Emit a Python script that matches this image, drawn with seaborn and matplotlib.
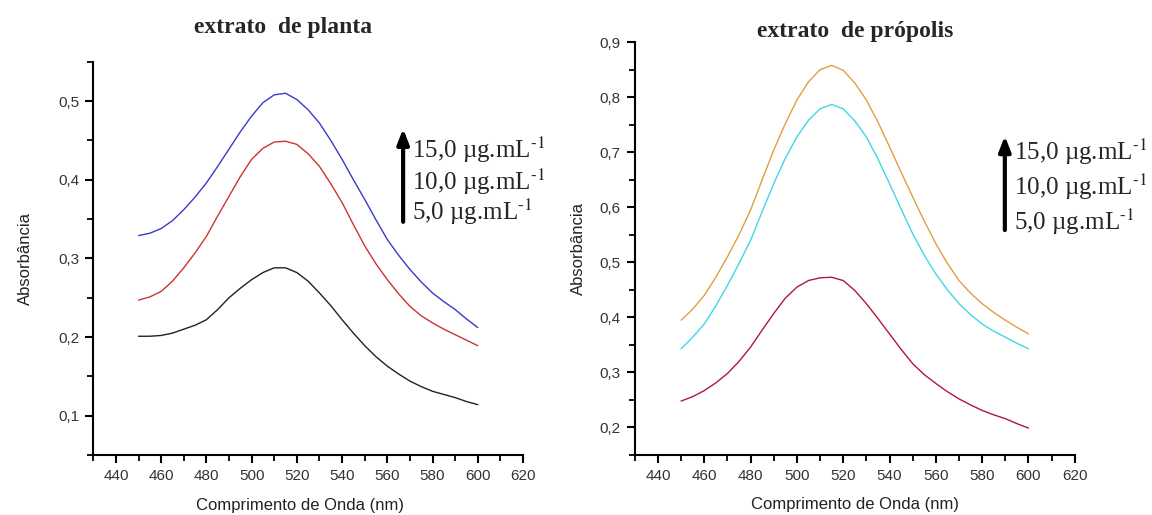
import numpy as np
import pandas as pd
from matplotlib import pyplot as plt
from matplotlib.ticker import MultipleLocator, FuncFormatter
import seaborn as sns

# wavelength grid (nm), every 5 nm
wl = list(range(450, 601, 5))

# extrato de planta
planta_15 = [0.329, 0.332, 0.338, 0.348, 0.362, 0.378, 0.396, 0.417, 0.439, 0.461, 0.481,
             0.498, 0.508, 0.510, 0.502, 0.489, 0.472, 0.450, 0.426, 0.400, 0.375,
             0.349, 0.324, 0.304, 0.286, 0.270, 0.256, 0.245, 0.235, 0.223, 0.212]
planta_10 = [0.247, 0.251, 0.258, 0.271, 0.288, 0.307, 0.328, 0.354, 0.379, 0.404, 0.426,
             0.440, 0.448, 0.449, 0.445, 0.433, 0.417, 0.395, 0.371, 0.343, 0.316,
             0.293, 0.273, 0.255, 0.239, 0.227, 0.218, 0.210, 0.203, 0.196, 0.189]
planta_5 = [0.201, 0.201, 0.202, 0.205, 0.210, 0.215, 0.222, 0.235, 0.250, 0.262, 0.273,
            0.282, 0.288, 0.288, 0.282, 0.271, 0.256, 0.240, 0.222, 0.205, 0.189,
            0.175, 0.163, 0.153, 0.144, 0.137, 0.131, 0.127, 0.123, 0.118, 0.114]

# extrato de propolis
propolis_15 = [0.395, 0.415, 0.440, 0.473, 0.510, 0.550, 0.595, 0.650, 0.704, 0.752, 0.795,
               0.828, 0.850, 0.858, 0.849, 0.826, 0.795, 0.755, 0.710, 0.664, 0.619,
               0.575, 0.534, 0.498, 0.467, 0.444, 0.425, 0.409, 0.395, 0.382, 0.370]
propolis_10 = [0.343, 0.364, 0.388, 0.421, 0.458, 0.498, 0.540, 0.592, 0.643, 0.689, 0.728,
               0.758, 0.779, 0.787, 0.779, 0.757, 0.728, 0.688, 0.643, 0.597, 0.552,
               0.513, 0.479, 0.450, 0.425, 0.405, 0.388, 0.375, 0.364, 0.353, 0.343]
propolis_5 = [0.248, 0.256, 0.267, 0.281, 0.298, 0.320, 0.346, 0.377, 0.407, 0.435, 0.455,
              0.467, 0.472, 0.473, 0.467, 0.449, 0.425, 0.398, 0.370, 0.342, 0.316,
              0.296, 0.280, 0.265, 0.252, 0.241, 0.231, 0.223, 0.216, 0.207, 0.199]

conc_labels = [r'15,0 µg.mL$^{\text{-1}}$', r'10,0 µg.mL$^{\text{-1}}$', r'5,0 µg.mL$^{\text{-1}}$']

sns.set_style('ticks')
plt.rcParams['font.family'] = ['Liberation Sans Narrow', 'Liberation Sans', 'DejaVu Sans']
plt.rcParams['mathtext.fontset'] = 'stix'

fig = plt.figure(figsize=(11.52, 5.15), dpi=100)
ax1 = fig.add_axes([0.081, 0.1165, 0.373, 0.7635])
ax2 = fig.add_axes([0.551, 0.1165, 0.382, 0.8015])

comma = FuncFormatter(lambda v, p: ('%.1f' % v).replace('.', ','))


def style_axis(ax, ylim):
    ax.set_xlim(430, 620)
    ax.set_ylim(*ylim)
    ax.xaxis.set_major_locator(MultipleLocator(20))
    ax.xaxis.set_minor_locator(MultipleLocator(10))
    ax.yaxis.set_major_locator(MultipleLocator(0.1))
    ax.yaxis.set_minor_locator(MultipleLocator(0.05))
    ax.yaxis.set_major_formatter(comma)
    for s in ['top', 'right']:
        ax.spines[s].set_visible(False)
    for s in ['left', 'bottom']:
        ax.spines[s].set_linewidth(1.5)
        ax.spines[s].set_color('black')
    ax.tick_params(which='major', length=6, width=1.5, direction='out',
                   labelsize=11, colors='black', labelcolor='#333333', pad=4)
    ax.tick_params(which='minor', length=4, width=1.3, direction='out', colors='black')
    ax.set_xlabel('Comprimento de Onda (nm)', fontsize=12, color='#222222', labelpad=10)
    ax.set_ylabel('Absorbância', fontsize=12, color='#222222')


# left panel
sns.lineplot(x=wl, y=planta_15, color='#3a3ac8', lw=1, ax=ax1)
sns.lineplot(x=wl, y=planta_10, color='#cc3333', lw=1, ax=ax1)
sns.lineplot(x=wl, y=planta_5, color='#222222', lw=1, ax=ax1)
style_axis(ax1, (0.05, 0.55))
ax1.yaxis.labelpad = 18
ax1.xaxis.set_label_coords(0.48, -0.11)

# right panel
sns.lineplot(x=wl, y=propolis_15, color='#e0a040', lw=1, ax=ax2)
sns.lineplot(x=wl, y=propolis_10, color='#40d8e4', lw=1, ax=ax2)
sns.lineplot(x=wl, y=propolis_5, color='#b01838', lw=1, ax=ax2)
style_axis(ax2, (0.15, 0.9))
ax2.yaxis.labelpad = 10

serif = ['Liberation Serif', 'DejaVu Serif']
fig.text(283 / 1152, 1 - 27 / 515, 'extrato  de planta', ha='center', va='center',
         fontsize=17, fontweight='bold', family=serif)
fig.text(855 / 1152, 1 - 32 / 515, 'extrato  de própolis', ha='center', va='center',
         fontsize=17, fontweight='bold', family=serif)

arrow = dict(arrowstyle='-|>,head_width=0.35,head_length=0.9', lw=3, color='black',
             shrinkA=0, shrinkB=0)

ax1.annotate('', xy=(0.721, 0.83), xytext=(0.721, 0.593), xycoords='axes fraction',
             arrowprops=arrow)
for lab, yy in zip(conc_labels, [0.776, 0.695, 0.618]):
    ax1.text(0.741, yy, lab, transform=ax1.transAxes, ha='left', va='center',
             fontsize=18, family=serif)

ax2.annotate('', xy=(0.841, 0.773), xytext=(0.841, 0.545), xycoords='axes fraction',
             arrowprops=arrow)
for lab, yy in zip(conc_labels, [0.734, 0.649, 0.564]):
    ax2.text(0.861, yy, lab, transform=ax2.transAxes, ha='left', va='center',
             fontsize=18, family=serif)

fig.savefig('out.png', dpi=100)
